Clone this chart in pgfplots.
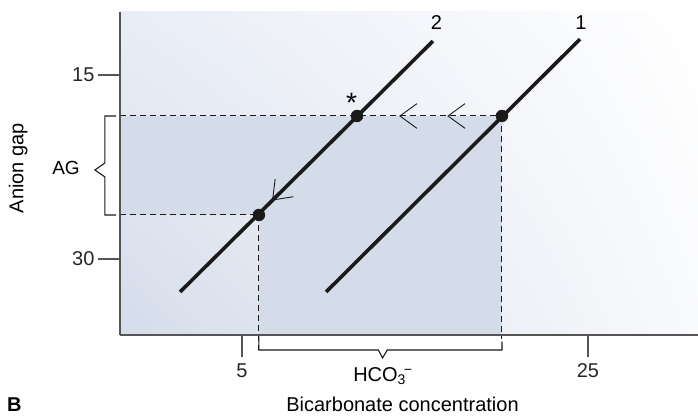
\documentclass[border=0pt]{standalone}
\usepackage{fontspec}
\setmainfont{Liberation Sans}
\usepackage{pgfplots}
\pgfplotsset{compat=1.18}
\usetikzlibrary{shadings}

\definecolor{bgll}{HTML}{D5DCEA}
\definecolor{bgul}{HTML}{E9EDF6}
\definecolor{bglr}{HTML}{F9FAFC}
\definecolor{shadeblue}{HTML}{D4DBE9}
\definecolor{axisgray}{HTML}{555555}
\definecolor{linecol}{HTML}{1A1A1A}

\begin{document}
\begin{tikzpicture}
\path[use as bounding box] (0,0) rectangle (698pt,415pt);
\begin{axis}[
    at={(120pt,80pt)}, anchor=south west,
    scale only axis, width=578pt, height=323pt,
    xmin=-2.05, xmax=31.36, ymin=9.86, ymax=36.2,
    y dir=reverse,
    axis x line*=bottom, axis y line*=left,
    xtick={5,25}, ytick={15,30},
    tick align=outside, major tick length=22pt,
    axis line style={draw=axisgray, line width=1.5pt},
    tick style={draw=axisgray, line width=1.3pt},
    ticklabel style={font=\fontsize{20}{24}\selectfont, text=black!85},
    xticklabel style={yshift=-3pt},
    /pgf/number format/assume math mode=true,
    axis on top, clip=false,
]
% background
\shade[lower left=bgll, upper left=bgul, upper right=white, lower right=bglr]
    (axis cs:-2.05,36.2) rectangle (axis cs:31.36,9.86);

% shaded region
\addplot[draw=none, fill=shadeblue] coordinates {
    (-2.05,18.34) (20.03,18.34) (20.03,36.2) (5.98,36.2) (5.98,26.41) (-2.05,26.41)} -- cycle;

% dashed guides
\addplot[linecol, line width=1pt, dash pattern=on 6pt off 4pt] coordinates {(-2.05,18.34) (20.03,18.34)};
\addplot[linecol, line width=1pt, dash pattern=on 6pt off 4pt] coordinates {(-2.05,26.41) (5.98,26.41)};
\addplot[linecol, line width=1pt, dash pattern=on 6pt off 4pt] coordinates {(5.98,26.41) (5.98,37.42)};
\addplot[linecol, line width=1pt, dash pattern=on 6pt off 4pt] coordinates {(20.03,18.34) (20.03,36.5)};

% lines 1 and 2
\addplot[linecol, line width=3.6pt] coordinates {(1.42,32.69) (16.04,12.23)};
\addplot[linecol, line width=3.6pt] coordinates {(9.86,32.69) (24.54,12.07)};

% points
\addplot[only marks, mark=*, mark size=6pt, color=linecol] coordinates {(20.03,18.34) (11.65,18.34) (5.98,26.41)};

% chevrons
\draw[linecol, line width=0.9pt] (axis cs:14.13,18.34) ++(36:21pt) -- (axis cs:14.13,18.34) -- ++(-36:21pt);
\draw[linecol, line width=0.9pt] (axis cs:16.91,18.34) ++(36:21pt) -- (axis cs:16.91,18.34) -- ++(-36:21pt);
\draw[linecol, line width=0.9pt] (axis cs:6.77,25.19) ++(83:21pt) -- (axis cs:6.77,25.19) -- ++(9:21pt);

% brackets
\draw[linecol, line width=1.1pt] (axis cs:-2.28,18.34) -- (axis cs:-2.92,18.34) -- (axis cs:-2.92,22.17)
    -- (axis cs:-3.50,22.74) -- (axis cs:-2.92,23.31) -- (axis cs:-2.92,26.41) -- (axis cs:-2.28,26.41);
\draw[linecol, line width=1.1pt] (axis cs:5.98,36.3) -- (axis cs:5.98,37.42) -- (axis cs:12.88,37.42)
    -- (axis cs:13.13,38.07) -- (axis cs:13.40,37.42) -- (axis cs:20.03,37.42) -- (axis cs:20.03,36.74);

% labels
\node[inner sep=0, font=\fontsize{20}{24}\selectfont] at (axis cs:16.24,10.72) {2};
\node[inner sep=0, font=\fontsize{20}{24}\selectfont] at (axis cs:24.6,10.72) {1};
\node[inner sep=0, anchor=base, font=\fontsize{28}{30}\selectfont] at (axis cs:11.33,18.05) {*};
\node[inner sep=0, font=\fontsize{19}{24}\selectfont] at (axis cs:-5.17,22.6) {AG};
\node[inner sep=0, anchor=base, font=\fontsize{20}{24}\selectfont] at (axis cs:13.15,40.0)
    {HCO\textsubscript{3}\kern-2pt\textsuperscript{−}};
\node[inner sep=0, anchor=base, font=\fontsize{20}{24}\selectfont] at (axis cs:14.28,42.43)
    {Bicarbonate concentration};
\node[inner sep=0, anchor=base, rotate=90, font=\fontsize{20}{24}\selectfont] at (axis cs:-7.64,22.6)
    {Anion gap};
\node[inner sep=0, anchor=base west, font=\fontsize{20}{24}\selectfont\bfseries] at (axis cs:-8.58,42.47) {B};
\end{axis}
\end{tikzpicture}
\end{document}
